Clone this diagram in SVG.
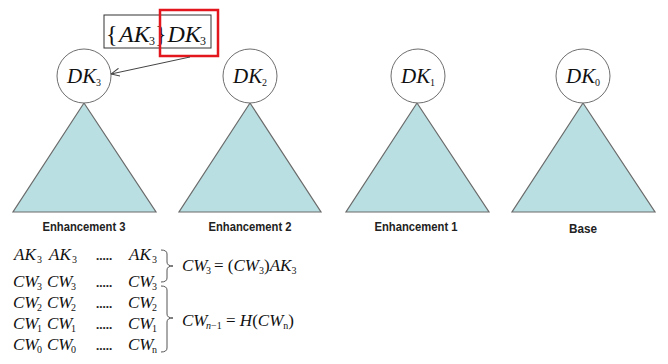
<svg xmlns="http://www.w3.org/2000/svg" width="668" height="364" viewBox="0 0 668 364">
  <defs>
    <marker id="open-arrow" viewBox="0 0 10 10" refX="9.5" refY="5" markerWidth="9" markerHeight="9" markerUnits="userSpaceOnUse" orient="auto">
      <path d="M0,0.5 L9.5,5 L0,9.5" fill="none" stroke="#444" stroke-width="1.1"/>
    </marker>
    <style>
      .tri { fill: #b9dfe2; stroke: #6a6a6a; stroke-width: 1.2; }
      .key { fill: #ffffff; stroke: #6e6e6e; stroke-width: 1; }
      .math { font-family: "Liberation Serif", "Times New Roman", serif; fill: #111; }
      .it { font-style: italic; }
      .sub { font-size: 10px; font-style: normal; }
      .lbl { font-family: "Liberation Sans", Arial, sans-serif; font-size: 12.5px; font-weight: bold; fill: #222; text-anchor: middle; }
      .dots { font-family: "Liberation Serif", serif; font-size: 13px; font-weight: bold; fill: #222; }
      .brace { fill: none; stroke: #555; stroke-width: 1; }
    </style>
  </defs>

  <rect width="668" height="364" fill="#ffffff"/>

  <!-- key set label above the first layer -->
  <g id="keyset">
    <rect x="104" y="15" width="107" height="33" fill="#ffffff" stroke="#333" stroke-width="1"/>
    <text class="math" font-size="24" x="106" y="42">{</text>
    <text class="math it" font-size="24" x="119" y="42">AK</text>
    <text class="math" font-size="12" x="149" y="45">3</text>
    <text class="math" font-size="24" x="155" y="42">}</text>
    <text class="math it" font-size="24" x="167.5" y="42">DK</text>
    <text class="math" font-size="12" x="200" y="45">3</text>
    <rect x="160" y="10" width="58" height="46" fill="none" stroke="#e3161d" stroke-width="2.5"/>
  </g>

  <!-- layer 3 -->
  <g id="enh3">
    <polygon class="tri" points="84,103 13,212 156,212"/>
    <circle class="key" cx="84" cy="76" r="27"/>
    <text class="math" font-size="21" y="83"><tspan class="it" x="67">DK</tspan><tspan class="sub" x="96" y="86" font-size="11">3</tspan></text>
    <text class="lbl" x="84" y="231" textLength="83" lengthAdjust="spacingAndGlyphs">Enhancement 3</text>
  </g>

  <!-- layer 2 -->
  <g id="enh2">
    <polygon class="tri" points="250,103 179,212 321,212"/>
    <circle class="key" cx="250" cy="76" r="27"/>
    <text class="math" font-size="21" y="83"><tspan class="it" x="233">DK</tspan><tspan class="sub" x="262" y="86" font-size="11">2</tspan></text>
    <text class="lbl" x="250" y="231" textLength="83" lengthAdjust="spacingAndGlyphs">Enhancement 2</text>
  </g>

  <!-- layer 1 -->
  <g id="enh1">
    <polygon class="tri" points="417,103 346,212 489,212"/>
    <circle class="key" cx="418" cy="76" r="27"/>
    <text class="math" font-size="21" y="83"><tspan class="it" x="401">DK</tspan><tspan class="sub" x="430" y="86" font-size="11">1</tspan></text>
    <text class="lbl" x="416" y="231" textLength="83" lengthAdjust="spacingAndGlyphs">Enhancement 1</text>
  </g>

  <!-- base layer -->
  <g id="base">
    <polygon class="tri" points="583,103 512,212 655,212"/>
    <circle class="key" cx="583" cy="76" r="27"/>
    <text class="math" font-size="21" y="83"><tspan class="it" x="566">DK</tspan><tspan class="sub" x="595" y="86" font-size="11">0</tspan></text>
    <text class="lbl" x="583" y="233" textLength="28" lengthAdjust="spacingAndGlyphs">Base</text>
  </g>

  <!-- connectors -->
  <g id="connectors">
    <line x1="190" y1="57" x2="111" y2="74" stroke="#444" stroke-width="1" marker-end="url(#open-arrow)"/>
  </g>

  <!-- key / codeword table -->
  <g id="table" class="math" font-size="17">
    <text y="260"><tspan class="it" x="14">AK</tspan><tspan class="sub" x="37" y="263">3</tspan><tspan class="it" x="49" y="260">AK</tspan><tspan class="sub" x="72" y="263">3</tspan><tspan class="it" x="129" y="260">AK</tspan><tspan class="sub" x="152" y="263">3</tspan></text>
    <text y="287"><tspan class="it" x="13">CW</tspan><tspan class="sub" x="37" y="290">3</tspan><tspan class="it" x="47" y="287">CW</tspan><tspan class="sub" x="71" y="290">3</tspan><tspan class="it" x="128" y="287">CW</tspan><tspan class="sub" x="152" y="290">3</tspan></text>
    <text y="308"><tspan class="it" x="13">CW</tspan><tspan class="sub" x="37" y="311">2</tspan><tspan class="it" x="47" y="308">CW</tspan><tspan class="sub" x="71" y="311">2</tspan><tspan class="it" x="128" y="308">CW</tspan><tspan class="sub" x="152" y="311">2</tspan></text>
    <text y="329"><tspan class="it" x="13">CW</tspan><tspan class="sub" x="37" y="332">1</tspan><tspan class="it" x="47" y="329">CW</tspan><tspan class="sub" x="71" y="332">1</tspan><tspan class="it" x="128" y="329">CW</tspan><tspan class="sub" x="152" y="332">1</tspan></text>
    <text y="350"><tspan class="it" x="13">CW</tspan><tspan class="sub" x="37" y="353">0</tspan><tspan class="it" x="47" y="350">CW</tspan><tspan class="sub" x="71" y="353">0</tspan><tspan class="it" x="128" y="350">CW</tspan><tspan class="sub" x="152" y="353">n</tspan></text>
    <text class="dots" x="96" y="260">.....</text>
    <text class="dots" x="96" y="287">.....</text>
    <text class="dots" x="96" y="308">.....</text>
    <text class="dots" x="96" y="329">.....</text>
    <text class="dots" x="96" y="350">.....</text>
  </g>

  <!-- braces and relations -->
  <g id="relations" class="math" font-size="17">
    <path class="brace" d="M161,250 Q167,250 167,254 L167,262 Q167,266 173,266 Q167,266 167,270 L167,278 Q167,282 161,282"/>
    <path class="brace" d="M161,286 Q167,286 167,290 L167,314 Q167,318 173,318 Q167,318 167,322 L167,348 Q167,352 161,352"/>
    <text y="271"><tspan class="it" x="182">CW</tspan><tspan class="sub" x="206" y="274">3</tspan><tspan x="214" y="271">= (</tspan><tspan class="it">CW</tspan><tspan class="sub" dy="3">3</tspan><tspan dy="-3">)</tspan><tspan class="it">AK</tspan><tspan class="sub" dy="3">3</tspan></text>
    <text y="326"><tspan class="it" x="182">CW</tspan><tspan class="sub" x="206" y="329"><tspan class="it">n</tspan>−1</tspan><tspan x="226" y="326">= </tspan><tspan class="it">H</tspan><tspan>(</tspan><tspan class="it">CW</tspan><tspan class="sub it" dy="3">n</tspan><tspan dy="-3">)</tspan></text>
  </g>
</svg>
